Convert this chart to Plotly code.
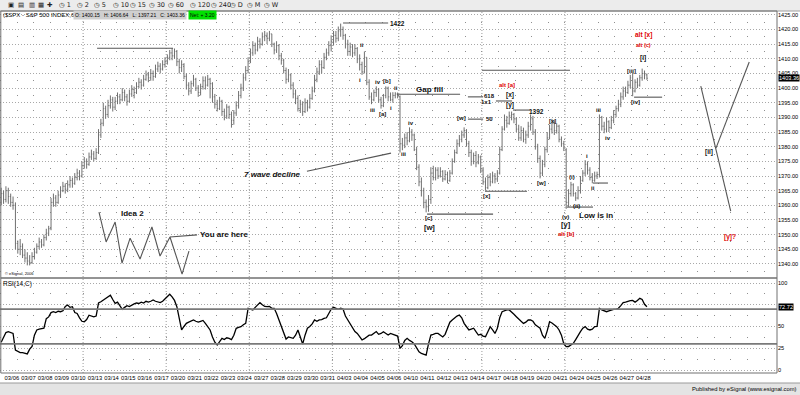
import plotly.graph_objects as go

# ---------------- data ----------------
date_labels = ["03/06","03/07","03/08","03/09","03/10","03/13","03/14","03/15","03/16","03/17",
               "03/20","03/21","03/22","03/23","03/24","03/27","03/28","03/29","03/30","03/31",
               "04/03","04/04","04/05","04/06","04/10","04/11","04/12","04/13","04/14",
               "04/17","04/18","04/19","04/20","04/21","04/24","04/25","04/26","04/27","04/28"]
bars_per_day = 7

opens = [1361,1364,1362,1365,1363,1361,1360, 1347,1345,1346,1343,1342,1341,1340.5,
 1342.5,1344,1346,1347.5,1346.5,1349,1350.5, 1352,1361,1362.5,1361,1363.5,1365,1366.5,
 1365.5,1367,1368.5,1367.5,1369.5,1371,1370, 1373.5,1375,1374,1376.5,1377.5,1376,1378,
 1384,1388,1393,1391,1394,1396,1393.5, 1395.5,1397,1396,1398.5,1397,1395.5,1398,
 1399.5,1398.5,1400.5,1402,1401,1403,1404.5, 1403.5,1405,1404,1406.5,1407.5,1406.5,1408,
 1409,1410.5,1412,1411,1412.5,1409,1407, 1408,1404,1401,1399,1401.5,1403,1400,
 1398.5,1400.5,1402.5,1401,1403,1401.5,1397, 1394.5,1393,1395.5,1392,1390.5,1393.5,1391,
 1389,1391.5,1394,1397.5,1400,1403.5,1406, 1409,1412,1414.5,1413,1416,1415,1417.5,
 1418,1417,1418.5,1415,1413,1414.5,1411, 1409.5,1406,1403,1404.5,1401,1398,1396.5,
 1393,1394.5,1392,1395,1393.5,1396.5,1399, 1403,1405.5,1408,1407,1410.5,1412,1414.5,
 1416,1418,1417,1419.5,1420,1418,1415, 1412.5,1414,1412,1413.5,1410,1408,1405.5,
 1410.5,1402,1397,1396,1398.5,1399.5,1396, 1394,1397.5,1400,1397,1396,1397.5,1398,
 1397,1381,1380.5,1383,1382,1385,1384, 1379,1373,1368,1365,1361,1359.5,1362,
 1371,1369.5,1372,1370,1371.5,1369,1370.5, 1368.5,1371,1375,1378,1381,1382.5,1384,
 1385.5,1381,1378,1375,1377,1374.5,1376.5, 1372,1368,1366,1369.5,1368,1370,1369,
 1371,1379,1386,1389,1388,1390.5,1391, 1389.5,1386,1383,1385.5,1382.5,1384,1387,
 1389.5,1385,1380,1376,1371,1374,1379, 1383,1386,1388,1385.5,1387,1382.5,1381,
 1379,1361,1364,1367,1364,1362.5,1365, 1368.5,1371,1374,1372,1369.5,1368.5,1370,
 1370.5,1390,1387,1386,1388.5,1386.5,1389, 1391,1393,1394.5,1397,1399,1398.5,1401,
 1400.15,1399,1402,1401,1403.5,1405,1404.5]

highs = [1366,1365,1366.5,1366,1364,1363,1361, 1348,1348.5,1347,1345,1344,1343,1344,
 1345.5,1347,1349,1348.5,1350,1352,1353, 1362.5,1364,1363.5,1365,1366.5,1368,1367.5,
 1368.5,1370,1369.5,1371,1372.5,1372,1375, 1376.5,1376,1378,1379,1378.5,1379.5,1386,
 1389.5,1395,1394,1396,1397.5,1397,1397, 1398.5,1398,1400,1399.5,1398,1399.5,1401,
 1400.5,1402,1403.5,1403,1404.5,1406,1405.5, 1406.5,1406,1408,1409,1408.5,1409.5,1410.5,
 1411.5,1413,1413.6,1413.5,1413,1410,1409.5, 1408.5,1405,1402,1402.5,1404.5,1403.5,1401,
 1401.5,1404,1404,1404.5,1403.5,1402,1398, 1396,1397,1396,1393,1394.5,1394,1392,
 1392.5,1395.5,1399,1401.5,1405,1407.5,1410.5, 1413.5,1416,1415.5,1417.5,1417,1419,1419.5,
 1419,1419.5,1418.5,1415.5,1416,1415,1412, 1410,1407,1406.5,1405,1402,1399.5,1397.5,
 1396,1395.5,1396.5,1396,1398,1400.5,1404.5, 1407,1409.5,1409.5,1412,1413.5,1416,1418,
 1419.5,1419.5,1421,1422,1421,1418.5,1416.5, 1415.5,1415,1415,1414,1411.5,1409,1412.5,
 1410.5,1403,1398.5,1399.5,1400.6,1400,1397, 1398,1400.6,1400.5,1398.5,1398.6,1398.6,1398.5,
 1397.5,1383,1384.5,1385,1386.6,1386,1384.5, 1380,1374,1369.5,1366,1362,1363.5,1373,
 1373.5,1373,1373,1373,1372,1372,1371.5, 1372,1376,1379,1382.5,1384,1385.5,1386.6,
 1386,1382,1379,1378,1378.5,1377.5,1377, 1373,1369.5,1370.5,1371,1371.5,1371,1372,
 1380,1387,1391,1390.5,1392,1392,1391.5, 1390,1387.5,1387,1386.5,1385.5,1388.5,1391,
 1390.5,1386,1381,1377,1375.5,1380,1385, 1387.5,1389.5,1389,1388,1387.5,1383.5,1382,
 1379.5,1365.5,1368,1367.5,1364.5,1366.5,1370, 1372,1375.4,1375,1373,1371,1371.5,1371.5,
 1391,1390.5,1388.5,1390,1389,1390.5,1392.5, 1394,1396,1398.5,1400.5,1400.5,1402.5,1404.5,
 1405.2,1403,1403.5,1404.5,1406.64,1406,1405]

lows = [1360,1360.5,1361,1360.5,1359.5,1358.5,1345, 1343.5,1343,1342,1340.5,1339.5,1339.5,1340,
 1341.5,1343.5,1345,1345.5,1346,1348,1349.5, 1351.5,1359.5,1359.5,1360.5,1362.5,1364.5,1364,
 1364.5,1366,1366,1367,1368.5,1368.5,1369.5, 1372.5,1372.5,1373.5,1375.5,1375,1375.5,1377.5,
 1383,1387,1389.5,1390,1393,1392,1392.5, 1394.5,1394.5,1395.5,1395.5,1394,1395,1397,
 1396.5,1398,1400,1399.5,1400.5,1402.5,1402, 1402.5,1402.5,1403.5,1405.5,1405,1406,1407,
 1408,1409.5,1409.5,1410,1407.5,1405,1405.5, 1403,1399.5,1397.5,1398,1400.5,1399,1397,
 1397.5,1399.5,1399.5,1400.5,1396.5,1395,1393, 1392,1392.5,1390.5,1389,1389.5,1389.5,1386.5,
 1387.5,1390.5,1393,1396.5,1399,1402.5,1405, 1408.5,1411,1411.5,1412.5,1413.5,1414.5,1416,
 1415,1416,1414,1411.5,1412,1409.5,1408, 1405,1401.5,1402,1399.5,1396.5,1394.5,1392,
 1391.5,1390.5,1391.5,1392,1393,1396,1398.5, 1402,1404.5,1405,1406.5,1409.5,1411,1412.5,
 1414.5,1415.5,1416,1417.5,1416.5,1413.5,1411, 1411,1410.5,1411,1408.5,1406,1404.5,1405,
 1401,1396,1394.5,1395.5,1397,1395,1393, 1393.5,1396.5,1395.5,1395.5,1395,1396.5,1396.5,
 1378,1378.8,1379.5,1380.5,1381.5,1382,1378.5, 1372,1366.5,1363,1359,1357.6,1357.8,1360.5,
 1368.5,1368.5,1369,1369.5,1368,1368.5,1367.5, 1368,1370.5,1374.5,1377.5,1380,1381.5,1383,
 1380,1376.5,1373.5,1374,1373,1374,1371, 1367,1365,1365.5,1366.5,1367.5,1367.5,1368,
 1370.5,1378.5,1385.5,1386.5,1387.5,1389,1388, 1385,1382,1382,1381.5,1381,1383,1385.5,
 1384,1379,1374.5,1369.2,1370,1373,1378, 1382.5,1384.5,1384,1384.5,1381.5,1380,1378.5,
 1358.8,1359.5,1363,1363,1361.5,1362,1364, 1368,1370,1370.5,1368.5,1367.5,1368,1369,
 1369.5,1385.5,1384.6,1385,1385,1386,1388, 1390,1392,1393.5,1396,1397,1398,1400,
 1397.21,1398.5,1400,1400.5,1402.5,1403,1402.8]

closes = [1364,1362,1365,1363,1361,1360,1347, 1345,1346,1343,1342,1341,1340.5,1342.5,
 1344,1346,1347.5,1346.5,1349,1350.5,1352, 1361,1362.5,1361,1363.5,1365,1366.5,1365.5,
 1367,1368.5,1367.5,1369.5,1371,1370,1373.5, 1375,1374,1376.5,1377.5,1376,1378,1384,
 1388,1393,1391,1394,1396,1393.5,1395.5, 1397,1396,1398.5,1397,1395.5,1398,1399.5,
 1398.5,1400.5,1402,1401,1403,1404.5,1403.5, 1405,1404,1406.5,1407.5,1406.5,1408,1409,
 1410.5,1412,1411,1412.5,1409,1407,1408, 1404,1401,1399,1401.5,1403,1400,1398.5,
 1400.5,1402.5,1401,1403,1401.5,1397,1394.5, 1393,1395.5,1392,1390.5,1393.5,1391,1389,
 1391.5,1394,1397.5,1400,1403.5,1406,1409, 1412,1414.5,1413,1416,1415,1417.5,1418,
 1417,1418.5,1415,1413,1414.5,1411,1409.5, 1406,1403,1404.5,1401,1398,1396.5,1393,
 1394.5,1392,1395,1393.5,1396.5,1399,1403, 1405.5,1408,1407,1410.5,1412,1414.5,1416,
 1418,1417,1419.5,1420,1418,1415,1412.5, 1414,1412,1413.5,1410,1408,1405.5,1410.5,
 1402,1397,1396,1398.5,1399.5,1396,1394, 1397.5,1400,1397,1396,1397.5,1398,1397.5,
 1381,1380.5,1383,1382,1385,1384,1379, 1373,1368,1365,1361,1359.5,1362,1371,
 1369.5,1372,1370,1371.5,1369,1370.5,1368.5, 1371,1375,1378,1381,1382.5,1384,1385.5,
 1381,1378,1375,1377,1374.5,1376.5,1372, 1368,1366,1369.5,1368,1370,1369,1371,
 1379,1386,1389,1388,1390.5,1391,1389.5, 1386,1383,1385.5,1382.5,1384,1387,1389.5,
 1385,1380,1376,1371,1374,1379,1383, 1386,1388,1385.5,1387,1382.5,1381,1379.5,
 1361,1364,1367,1364,1362.5,1365,1368.5, 1371,1374,1372,1369.5,1368.5,1370,1370.5,
 1390,1387,1386,1388.5,1386.5,1389,1391, 1393,1394.5,1397,1399,1398.5,1401,1403.5,
 1399,1402,1401,1403.5,1405,1404.5,1403.36]

rsi = [31.8,38,43,44,43,42,23, 21,20,20,19,18.5,24,27, 40,46,47,47.5,48,59,61,
 66,67,66,67.5,67,68,73, 74.7,72,72.8,66,65,60,56, 55.5,58,63,62,61,62,77,
 78.5,80.5,82,84,86,81,76.6, 78,74,69.7,72,74,73,75, 76,77,76.5,78,77,79,78,
 79,80.5,79,78,77.4,79,82, 84,87,84,80,72.8,60,46, 50,53.6,55,56,57.5,56,55,
 56,57,53.6,50,46,38,32, 28.7,33,36.4,35,37,36.4,35, 40,47.9,49,49.8,52,53.6,70.9,
 70,69,72,75,77.4,75,73, 72.8,73,71,70.9,65,57.5,50, 42,35.6,38,37,36.4,40,46,
 38,29.8,40,48,50,53,57.5, 56,57.5,58,59.4,60,65,70, 72,71,69.7,71,70,62,57.5,
 53,50,44.2,42,38,34.5,36, 38,40,40.2,42,44.2,41,42, 44,42,40.2,42,41,40,39,
 24.9,28,34,36.4,34,32.5,30, 26,21,19,18,17.2,30,40.2, 41,42,42,40,38,41,48,
 55,57.5,60,62,63.2,60,53.6, 50,46,47,48,44,40.2,41, 39,38.3,45,49.8,46,42,48,
 60,67,68,69,69,67,64, 61.3,58,56,53.6,55,57.5,57.5, 56,52,50,48,40,36.4,45,
 55.5,54,52,49.8,46,40,30, 26.8,27,29,30.6,35,40.2,44, 48,49.8,47,46,47,49.8,50,
 70.9,69,68,67,68,69,69.7, 69.7,71,74,77.4,78,79,79.7, 80,78,80,82.4,81,75.5,72.72]

price_ticks = [1340,1345,1350,1355,1360,1365,1370,1375,1380,1385,1390,1395,1400,1405,1410,1415,1420,1425]
price_half_ticks = [1337.5,1342.5,1347.5,1352.5,1357.5,1362.5,1367.5,1372.5,1377.5,1382.5,1387.5,
                    1392.5,1397.5,1402.5,1407.5,1412.5,1417.5,1422.5]
rsi_ticks = [0, 25, 50, 75, 100]
rsi_tick_text = ["0", "25", "50", "", "100"]
rsi_levels = [70, 30]
week_start_days = [5, 10, 15, 20, 24, 29, 34]

last_close = closes[-1]
last_rsi = rsi[-1]
header_ohlc = "O: 1400.15   H: 1406.64   L: 1397.21   C: 1403.36"
header_net = "Net: + 3.20"

# analyst drawings (bar index, price)
hlines = [  # x0, x1, price
    (40.4, 72.4, 1413.6), (144, 163, 1422.2), (166.7, 193.3, 1397.9), (196.6, 203, 1397.0),
    (208.4, 215.2, 1395.6), (202.5, 239.6, 1406.1), (196.6, 203, 1389.4), (179.4, 207.2, 1357.0),
    (203.8, 221.5, 1364.8), (215.6, 222.8, 1392.5), (238.3, 249.3, 1359.4), (249.3, 255.6, 1367.6),
    (266.6, 278.4, 1396.9)]
seg_lines = [
    ((128.8, 1371.6), (164.2, 1377.8)),
    ((294.7, 1400.7), (307.3, 1358.0)),
    ((301.1, 1379.5), (315.1, 1408.9)),
    ((71.1, 1349.2), (82.5, 1349.9))]
idea2_x = [41.2, 44.2, 48.0, 50.9, 54.3, 58.5, 63.5, 66.9, 71.1, 76.2, 79.1]
idea2_y = [1357.7, 1347.5, 1354.3, 1340.3, 1348.8, 1341.7, 1352.6, 1342.7, 1349.2, 1336.5, 1344.4]

BLK, RED = "#111111", "#e00000"
wave_labels = [  # text, bar, price, color, size
    ("1422", 167, 1422.2, BLK, 6.5), ("ii", 152.0, 1414.7, BLK, 6), ("i", 151.1, 1402.7, BLK, 6),
    ("iv", 158.7, 1402.0, BLK, 6), ("[b]", 162.5, 1402.4, BLK, 6), ("iii", 156.6, 1392.5, BLK, 6),
    ("[a]", 160.8, 1391.1, BLK, 6), ("i", 164.2, 1393.2, BLK, 6), ("ii", 166.3, 1400.0, BLK, 6),
    ("iv", 172.6, 1388.0, BLK, 6), ("iii", 169.3, 1377.5, BLK, 6),
    ("[c]", 179.8, 1355.6, BLK, 6), ("[w]", 180.6, 1352.3, BLK, 7.5),
    ("[w]", 194.1, 1389.7, BLK, 6), ("50", 205.5, 1389.4, BLK, 6),
    ("618", 205.5, 1397.3, BLK, 6), ("1x1", 204.6, 1395.2, BLK, 6),
    ("[x]", 214.3, 1397.6, BLK, 6.5), ("[y]", 214.3, 1394.2, BLK, 6.5),
    ("alt [a]", 213.1, 1401.0, RED, 6), ("1392", 225.7, 1392.1, BLK, 6.5),
    ("[x]", 204.6, 1363.1, BLK, 6), ("[w]", 227.8, 1367.6, BLK, 6), ("[x]", 232.4, 1388.7, BLK, 6),
    ("(v)", 237.5, 1356.0, BLK, 6), ("[y]", 237.9, 1353.4, BLK, 7.5), ("alt [b]", 237.9, 1350.2, RED, 6),
    ("(i)", 240.4, 1369.6, BLK, 6), ("(ii)", 242.5, 1359.9, BLK, 6),
    ("i", 246.8, 1376.7, BLK, 6), ("ii", 249.3, 1365.8, BLK, 6),
    ("iii", 251.4, 1392.5, BLK, 6), ("iv", 255.6, 1382.9, BLK, 6),
    ("[iii]", 265.3, 1405.8, BLK, 6), ("[iv]", 267.0, 1395.2, BLK, 6), ("[i]", 270.4, 1410.2, BLK, 6.5),
    ("alt [x]", 270.4, 1418.1, RED, 6.5), ("alt (c)", 270.4, 1414.7, RED, 5.5),
    ("[ii]", 298.2, 1378.1, BLK, 6.5), ("[y]?", 307.0, 1349.1, RED, 6.5)]
note_labels = [  # text, bar, price, anchor, italic
    ("Gap fill", 180.6, 1399.6, "center", False), ("Low is in", 250.6, 1356.6, "center", False),
    ("7 wave decline", 114.1, 1370.6, "center", True), ("Idea 2", 55.5, 1357.3, "center", False),
    ("You are here", 82.8, 1349.9, "left", False)]

# ---------------- figure ----------------
W, H = 800, 395
FONT = "Liberation Sans"
def py(pix):
    return 1 - pix / H

n = len(closes)
bar_x = list(range(n))
day_ticks = [d * bars_per_day + 4.5 for d in range(len(date_labels))]
XR = [-0.5, 326.8]
XD = [0, 777 / W]

fig = go.Figure()
fig.add_trace(go.Ohlc(x=bar_x, open=opens, high=highs, low=lows, close=closes,
                      xaxis="x2", yaxis="y", tickwidth=0.35, hoverinfo="skip",
                      increasing=dict(line=dict(color="#707070", width=1)),
                      decreasing=dict(line=dict(color="#707070", width=1))))
fig.add_trace(go.Scatter(x=bar_x, y=rsi, mode="lines", xaxis="x", yaxis="y2",
                         line=dict(color="#000000", width=1.3), hoverinfo="skip"))
fig.add_trace(go.Scatter(x=idea2_x, y=idea2_y, mode="lines", xaxis="x2", yaxis="y",
                         line=dict(color="#555555", width=1.1), hoverinfo="skip"))

shapes = []
shapes.append(dict(type="rect", xref="paper", yref="paper", x0=0, x1=1, y0=py(11), y1=1,
                   fillcolor="#ececec", line=dict(width=0), layer="below"))
shapes.append(dict(type="line", xref="paper", yref="paper", x0=0, x1=1, y0=py(11), y1=py(11),
                   line=dict(color="#a0a0a0", width=1)))
shapes.append(dict(type="rect", xref="paper", yref="paper", x0=0, x1=1, y0=0, y1=py(383),
                   fillcolor="#e4e4e4", line=dict(width=0), layer="below"))
shapes.append(dict(type="line", xref="paper", yref="paper", x0=0, x1=1, y0=py(383), y1=py(383),
                   line=dict(color="#9a9a9a", width=1)))
for d in week_start_days:
    xb = d * bars_per_day - 0.5
    shapes.append(dict(type="line", xref="x", yref="paper", x0=xb, x1=xb, y0=py(373), y1=py(11),
                       line=dict(color="#9a9a9a", width=1, dash="1px,2px"), layer="below"))
for lv in rsi_levels:
    shapes.append(dict(type="line", xref="paper", yref="y2", x0=0, x1=XD[1], y0=lv, y1=lv,
                       line=dict(color="#7a7a7a", width=1.6)))
for x0, x1, p in hlines:
    shapes.append(dict(type="line", xref="x2", yref="y", x0=x0, x1=x1, y0=p, y1=p,
                       line=dict(color="#555555", width=1.1)))
for (xa, ya), (xb, yb) in seg_lines:
    shapes.append(dict(type="line", xref="x2", yref="y", x0=xa, x1=xb, y0=ya, y1=yb,
                       line=dict(color="#555555", width=1.1)))
shapes.append(dict(type="rect", xref="paper", yref="paper", x0=0.001, x1=XD[1], y0=py(278), y1=py(11),
                   line=dict(color="#707070", width=1)))
shapes.append(dict(type="rect", xref="paper", yref="paper", x0=0.001, x1=XD[1], y0=py(373), y1=py(278),
                   line=dict(color="#707070", width=1)))

ann = []
for t, bx, p, c, s in wave_labels:
    ann.append(dict(text="<b>%s</b>" % t, x=bx, y=p, xref="x2", yref="y", showarrow=False,
                    font=dict(family=FONT, size=s, color=c)))
for t, bx, p, anc, it in note_labels:
    txt = "<b><i>%s</i></b>" % t if it else "<b>%s</b>" % t
    ann.append(dict(text=txt, x=bx, y=p, xref="x2", yref="y", showarrow=False, xanchor=anc,
                    font=dict(family=FONT, size=8, color="#111111")))
ann.append(dict(text="%.2f" % last_close, x=778 / W, y=last_close, xref="paper", yref="y",
                xanchor="left", showarrow=False, bgcolor="#000000", borderpad=0,
                font=dict(family=FONT, size=5.6, color="#ffffff")))
ann.append(dict(text="%.2f" % last_rsi, x=778 / W, y=last_rsi, xref="paper", yref="y2",
                xanchor="left", showarrow=False, bgcolor="#000000", borderpad=0,
                font=dict(family=FONT, size=5.6, color="#ffffff")))
ann.append(dict(text="($SPX - S&P 500 INDEX,60)", x=1 / W, y=py(15.5), xref="paper", yref="paper",
                xanchor="left", yanchor="middle", showarrow=False, font=dict(family=FONT, size=6, color="#000")))
ann.append(dict(text=header_ohlc, x=73 / W, y=py(15.5), xref="paper", yref="paper", xanchor="left",
                yanchor="middle", showarrow=False, bgcolor="#cfcfcf", borderpad=1,
                font=dict(family=FONT, size=5, color="#000")))
ann.append(dict(text=header_net, x=188 / W, y=py(15.5), xref="paper", yref="paper", xanchor="left",
                yanchor="middle", showarrow=False, bgcolor="#00e000", borderpad=1,
                font=dict(family=FONT, size=5, color="#000")))
ann.append(dict(text="RSI(14,C)", x=1 / W, y=py(284), xref="paper", yref="paper", xanchor="left",
                yanchor="middle", showarrow=False, font=dict(family=FONT, size=6.5, color="#000")))
ann.append(dict(text="© eSignal, 2006", x=3 / W, y=py(273), xref="paper", yref="paper", xanchor="left",
                yanchor="middle", showarrow=False, font=dict(family=FONT, size=4, color="#000")))
ann.append(dict(text="Published by eSignal (www.esignal.com)", x=797 / W, y=py(389), xref="paper",
                yref="paper", xanchor="right", yanchor="middle", showarrow=False, borderpad=0,
                font=dict(family=FONT, size=5.8, color="#000")))
toolbar_items = [("▣", 6), ("▤", 16), ("▥", 27), ("▦", 36), ("✚", 45), ("◷ 1", 57), ("◷ 2", 75),
                 ("◷ 5", 92), ("◷ 10", 111), ("◷ 15", 128), ("◷ 30", 147), ("◷ 60", 166),
                 ("◷ 120", 188), ("◷ 240", 209), ("◷ D", 228), ("◷ M", 245), ("◷ W", 262)]
for t, xp in toolbar_items:
    ann.append(dict(text=t, x=xp / W, y=py(5.5), xref="paper", yref="paper", showarrow=False,
                    yanchor="middle", font=dict(family="DejaVu Sans", size=6.5, color="#222")))

fig.update_layout(
    width=W, height=H, margin=dict(l=0, r=0, t=0, b=0),
    paper_bgcolor="#ffffff", plot_bgcolor="#ffffff", showlegend=False,
    shapes=shapes, annotations=ann,
    xaxis=dict(domain=XD, range=XR, anchor="y2", tickmode="array", tickvals=day_ticks,
               ticktext=date_labels, tickangle=0, tickfont=dict(family=FONT, size=5.8, color="#000"),
               showgrid=False, zeroline=False, showline=False, ticks="", ticklen=0,
               rangeslider=dict(visible=False)),
    xaxis2=dict(domain=XD, range=XR, anchor="y", matches="x", showticklabels=False, showgrid=False,
                zeroline=False, showline=False, ticks="", rangeslider=dict(visible=False)),
    yaxis=dict(domain=[py(278), py(11)], range=[1335.2, 1426.3], anchor="x2", side="right",
               tickmode="array", tickvals=price_ticks, tickformat=".2f",
               tickfont=dict(family=FONT, size=5.6, color="#000"), ticks="", ticklen=0,
               showgrid=True, gridcolor="#a8a8a8", griddash="1px,2px", gridwidth=1, zeroline=False,
               minor=dict(tickvals=price_half_ticks, showgrid=True, gridcolor="#909090",
                          griddash="1px,15.6px", gridwidth=1)),
    yaxis2=dict(domain=[py(373), py(278)], range=[-3.45, 105.75], anchor="x", side="right",
                tickmode="array", tickvals=rsi_ticks, ticktext=rsi_tick_text,
                tickfont=dict(family=FONT, size=5.6, color="#000"), ticks="", ticklen=0,
                showgrid=True, gridcolor="#a8a8a8", griddash="1px,2px", gridwidth=1, zeroline=False,
                minor=dict(tickvals=[12.5, 37.5, 62.5, 87.5], showgrid=True, gridcolor="#909090",
                           griddash="1px,15.6px", gridwidth=1)),
)

fig.write_html("out.html", config={"displayModeBar": False},
               post_script="document.body.style.margin='0px';")
